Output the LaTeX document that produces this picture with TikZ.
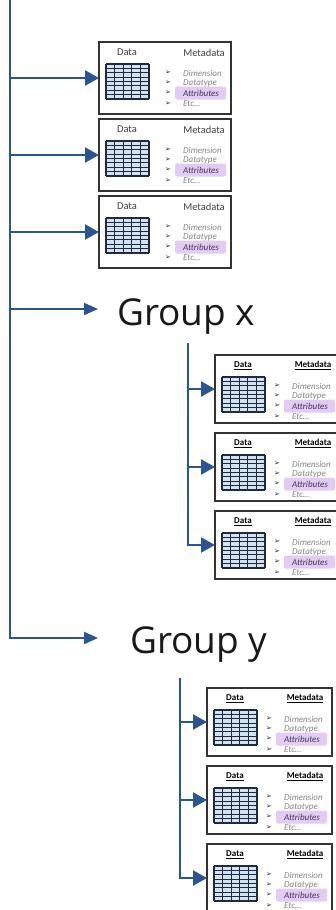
\documentclass[tikz,border=0pt]{standalone}
\usepackage{fontspec}
\setmainfont{Carlito}
\newfontfamily\groupfont{Open Sans}
\newfontfamily\bulletfont{DejaVu Sans}
\usetikzlibrary{arrows.meta,positioning}
\definecolor{Trunk}{HTML}{2B5592}
\definecolor{Frame}{HTML}{333333}
\definecolor{CellBlue}{HTML}{D3E2F1}
\definecolor{CellLine}{HTML}{1F2A3C}
\definecolor{Lavender}{HTML}{E3CCF3}
\definecolor{MetaGray}{HTML}{858585}
\definecolor{MetaDark}{HTML}{45345C}
\tikzset{
  filebox/.style={
    draw=Frame,
    line width=1.3pt,
    fill=white,
    inner sep=0pt,
    outer sep=0pt,
    anchor=north west
  },
  topbox/.style={filebox, minimum width=132pt, minimum height=72pt},
  subbox/.style={filebox, minimum width=125pt, minimum height=68pt},
  tophdr/.style={inner sep=0pt, font=\fontsize{10.5}{11}\selectfont, text=black!75},
  subhdr/.style={inner sep=0pt, font=\fontsize{9}{10}\selectfont\bfseries, text=black},
  metaitem/.style={inner sep=0pt, anchor=west, font=\fontsize{9}{9}\selectfont\itshape, text=MetaGray},
  metakey/.style={metaitem, text=MetaDark},
  bulletmark/.style={inner sep=0pt, font=\bulletfont\fontsize{7}{7}\selectfont, text=black!85},
  gridline/.style={draw=CellLine, line width=1.2pt},
  grouplabel/.style={inner sep=0pt, font=\groupfont\fontsize{37}{40}\selectfont, text=black!90},
  trunkline/.style={draw=Trunk, line width=2.2pt},
  boxarrow/.style={trunkline, -{Triangle[length=14pt,width=15pt]}},
  grouparrow/.style={trunkline, line width=1.8pt, -{Triangle[length=14pt,width=12pt]}}
}
% data table + metadata list inside a box: #1 box, #2 header style, #3 header wrapper
\newcommand{\fillbox}[3]{%
  \begin{scope}[shift={(#1.north west)}]
    \node[#2] (#1-data) at (28,10.5) {#3{Data}};
    \fill[CellBlue] (7,22) rectangle (50,57);
    \foreach \c in {0,1,2,3,4,5}
      \draw[gridline] ({7+\c*8.6},22) -- ({7+\c*8.6},57);
    \foreach \r in {0,1,2,3,4,5,6,7,8}
      \draw[gridline] (7,{22+\r*4.375}) -- (50,{22+\r*4.375});
  \end{scope}
  \begin{scope}[shift={(#1.north east)}]
    \node[#2] (#1-meta) at (-27,10.5) {#3{Metadata}};
    \fill[Lavender, rounded corners=2pt] (-56,44.5) rectangle (-5,57.5);
    \foreach \y/\t/\s [count=\k] in {31/Dimension/metaitem, 41/Datatype/metaitem, 51/Attributes/metakey, 62/Etc\ldots/metaitem} {
      \node[bulletmark] (#1-mark\k) at (-63,\y) {➢};
      \node[\s] (#1-item\k) at (-48,\y) {\t};
    }
  \end{scope}
}

\begin{document}
\begin{tikzpicture}[x=1pt, y=-1pt]
\useasboundingbox (0,0) rectangle (335,910);

% boxes of the root group
\node[topbox] (b1) at (99,42) {};
\node[topbox, below=5pt of b1.south west, anchor=north west] (b2) {};
\node[topbox, below=5pt of b2.south west, anchor=north west] (b3) {};
\foreach \b in {b1,b2,b3} {\fillbox{\b}{tophdr}{\relax}}

% group labels
\node[grouplabel, anchor=base west] (gx) at (117,325) {Group x};
\node[grouplabel, anchor=base west] (gy) at (130,653) {Group y};
\coordinate (gxtip) at ([xshift=-19pt, yshift=16pt]gx.base west);
\coordinate (gytip) at ([xshift=-32pt, yshift=15pt]gy.base west);

% boxes of group x
\node[subbox] (b4) at (215,355) {};
\node[subbox, below=10pt of b4.south west, anchor=north west] (b5) {};
\node[subbox, below=10pt of b5.south west, anchor=north west] (b6) {};

% boxes of group y
\node[subbox] (b7) at (207,688) {};
\node[subbox, below=10pt of b7.south west, anchor=north west] (b8) {};
\node[subbox, below=10pt of b8.south west, anchor=north west] (b9) {};
\foreach \b in {b4,b5,b6,b7,b8,b9} {\fillbox{\b}{subhdr}{\underline}}

% main trunk
\coordinate (root) at (10,0);
\draw[trunkline, line width=2pt, -{Triangle[length=14pt,width=12pt]}] (root) |- (gytip);
\foreach \b in {b1,b2,b3} \draw[boxarrow] (root |- \b.west) -- (\b.west);
\draw[grouparrow] (root |- gxtip) -- (gxtip);

% branch of group x
\coordinate (xroot) at (188,343);
\draw[boxarrow] (xroot) |- (b6.west);
\foreach \b in {b4,b5} \draw[boxarrow] (xroot |- \b.west) -- (\b.west);

% branch of group y
\coordinate (yroot) at (180,678);
\draw[boxarrow] (yroot) |- (b9.west);
\foreach \b in {b7,b8} \draw[boxarrow] (yroot |- \b.west) -- (\b.west);
\end{tikzpicture}
\end{document}
